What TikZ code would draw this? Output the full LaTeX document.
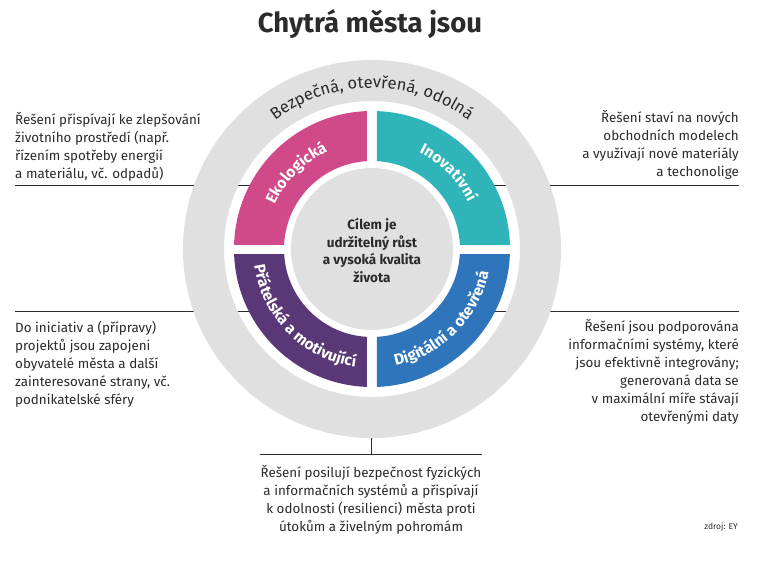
\documentclass[tikz,border=0pt]{standalone}
\usepackage{fontspec}
\setmainfont{Fira Sans}
\usetikzlibrary{decorations.text}
\definecolor{ink}{HTML}{2B2B2B}
\definecolor{ringgray}{HTML}{E0E0E0}
\definecolor{segpink}{HTML}{D04A8A}
\definecolor{segteal}{HTML}{2FB5B9}
\definecolor{segpurple}{HTML}{5A3776}
\definecolor{segblue}{HTML}{2E75BB}
\newcommand{\segfont}{\fontsize{15.5}{15.5}\selectfont\bfseries\color{white}}
\newcommand{\ringfont}{\fontsize{16.5}{16.5}\selectfont\color{ink}}
\tikzset{
  leader/.style={draw=ink, line width=1pt},
  bodytext/.style={inner sep=0pt, text=ink, font=\fontsize{13.4}{18}\selectfont},
  titletext/.style={inner sep=0pt, text=ink, font=\fontsize{27.5}{30}\selectfont\bfseries},
  centertext/.style={inner sep=0pt, text=ink, align=center, font=\fontsize{13.5}{17.7}\selectfont\bfseries},
  curved/.style={decorate, decoration={text along path, text align=center, text={#1}}}
}
\begin{document}
\begin{tikzpicture}[x=1pt,y=1pt]
\useasboundingbox (-372,-327) rectangle (405,249);
\fill[white] (-372,-327) rectangle (405,249);

% leader lines (drawn first, partly hidden by the rings)
\coordinate (ltA) at (-357,64);  \coordinate (ltB) at (-95,64);
\coordinate (rtA) at (367,64);   \coordinate (rtB) at (95,64);
\coordinate (lbA) at (-357,-62); \coordinate (lbB) at (-95,-62);
\coordinate (rbA) at (367,-62);  \coordinate (rbB) at (95,-62);
\coordinate (bmA) at (0,-150);   \coordinate (bmB) at (0,-205);
\coordinate (bhA) at (-112,-205); \coordinate (bhB) at (110,-205);
\draw[leader] (ltA) -- (ltB);
\draw[leader] (rtA) -- (rtB);
\draw[leader] (lbA) -- (lbB);
\draw[leader] (rbA) -- (rbB);
\draw[leader] (bmA) -- (bmB);
\draw[leader] (bhA) -- (bhB);

% outer gray ring
\fill[ringgray, even odd rule] (0,0) circle (189) (0,0) circle (148);

% coloured quadrants
\begin{scope}
  \clip (-200,5) rectangle (-5,200);
  \fill[segpink, even odd rule] (0,0) circle (138) (0,0) circle (88);
\end{scope}
\begin{scope}
  \clip (5,5) rectangle (200,200);
  \fill[segteal, even odd rule] (0,0) circle (138) (0,0) circle (88);
\end{scope}
\begin{scope}
  \clip (-200,-5) rectangle (-5,-200);
  \fill[segpurple, even odd rule] (0,0) circle (138) (0,0) circle (88);
\end{scope}
\begin{scope}
  \clip (5,-5) rectangle (200,-200);
  \fill[segblue, even odd rule] (0,0) circle (138) (0,0) circle (88);
\end{scope}

% centre disc
\fill[ringgray] (0,0) circle (81);
\node[centertext] (goal) at (0,-1.5) {Cílem je\\udržitelný růst\\a vysoká kvalita\\života};

% curved labels
\path[curved={|\ringfont|Bezpečná, otevřená, odolná}] (150:161) arc[start angle=150, end angle=30, radius=161];
\path[curved={|\segfont|Ekologická}] (175:107) arc[start angle=175, end angle=95, radius=107];
\path[curved={|\segfont|Inovativní}] (85:107) arc[start angle=85, end angle=5, radius=107];
\path[curved={|\segfont|Přátelská a motivující}] (182:119) arc[start angle=182, end angle=268, radius=119];
\path[curved={|\segfont|Digitální a otevřená}] (-88:119) arc[start angle=-88, end angle=-2, radius=119];

% title
\node[titletext, anchor=base] (title) at (-2,216) {Chytrá města jsou};

% side texts
\node[bodytext, align=left, anchor=north west] (lt) at (-357,137)
  {Řešení přispívají ke zlepšování\\životního prostředí (např.\\řízením spotřeby energií\\a materiálu, vč. odpadů)};
\node[bodytext, align=right, anchor=north east] (rt) at (367,139)
  {Řešení staví na nových\\obchodních modelech\\a využívají nové materiály\\a techonolige};
\node[bodytext, align=left, anchor=north west] (lb) at (-357,-72)
  {Do iniciativ a (přípravy)\\projektů jsou zapojeni\\obyvatelé města a další\\zainteresované strany, vč.\\podnikatelské sféry};
\node[bodytext, align=right, anchor=north east] (rb) at (367,-70.5)
  {Řešení jsou podporována\\informačními systémy, které\\jsou efektivně integrovány;\\generovaná data se\\v maximální míře stávají\\otevřenými daty};
\node[bodytext, align=center, anchor=north] (bm) at (-1,-216.5)
  {Řešení posilují bezpečnost fyzických\\a informačních systémů a přispívají\\k odolnosti (resilienci) města proti\\útokům a živelným pohromám};

\node[inner sep=0pt, text=ink, anchor=east, font=\fontsize{8.5}{10}\selectfont] (src) at (366,-278) {zdroj: EY};
\end{tikzpicture}
\end{document}
